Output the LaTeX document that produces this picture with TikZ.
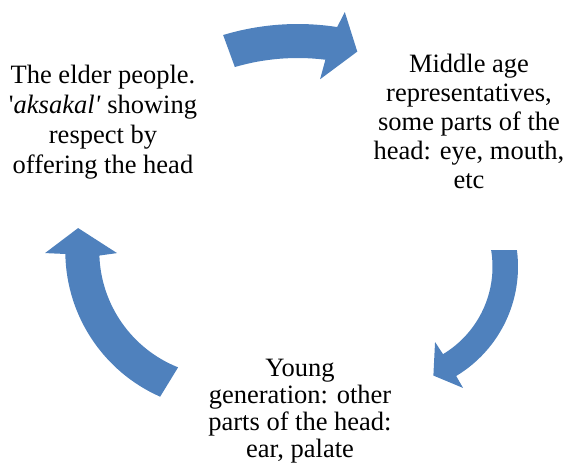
\documentclass[tikz,border=0pt]{standalone}
\usepackage{fontspec}
\setmainfont{Liberation Serif}
\definecolor{arrowblue}{HTML}{4F81BD}
\begin{document}
\begin{tikzpicture}[x=1pt,y=-1pt,
  cyclearrow/.style={fill=arrowblue},
  stage/.style={align=center, inner sep=0pt, anchor=north}]
\useasboundingbox (0,0) rectangle (564,464);

% stage texts
\node[stage, font=\fontsize{26.5}{30}\selectfont] (elder) at (103,64.6)
  {The elder people.\\\textquotesingle\textit{aksakal\textquotesingle} showing\\respect by\\offering the head};
\node[stage, font=\fontsize{26.5}{29}\selectfont] (middle) at (469,53.6)
  {Middle age\\representatives,\\some parts of the\\head: eye, mouth,\\etc};
\node[stage, font=\fontsize{26.5}{27}\selectfont] (young) at (300,359.2)
  {Young\\generation: other\\parts of the head:\\ear, palate};

% curved block arrows of the cycle, each an arc band around its own centre
% elder -> middle (top)
\begin{scope}[shift={(297.7,282)}]
  \fill[cyclearrow] (-106.8:258) arc[start angle=-106.8, end angle=-81.2, radius=258]
    -- (-80.1:274) -- (-75.5:238) -- (-83.7:204) -- (-82.9:224)
    arc[start angle=-82.9, end angle=-106.3, radius=224] -- cycle;
\end{scope}
% middle -> young (right)
\begin{scope}[shift={(390.5,266.7)}]
  \fill[cyclearrow] (-7.5:127.5) arc[start angle=-7.5, end angle=59, radius=127.5]
    -- (59.1:141.3) -- (68.5:117) -- (59.4:87.5) -- (59:102)
    arc[start angle=59, end angle=-9.4, radius=102] -- cycle;
\end{scope}
% young -> elder (left)
\begin{scope}[shift={(224.3,251.2)}]
  \fill[cyclearrow] (189:148) -- (179.4:179.3) -- (179:159)
    arc[start angle=179, end angle=113.8, radius=159] -- (111.7:125)
    arc[start angle=111.7, end angle=178, radius=125] -- (179:107.3) -- cycle;
\end{scope}
\end{tikzpicture}
\end{document}
